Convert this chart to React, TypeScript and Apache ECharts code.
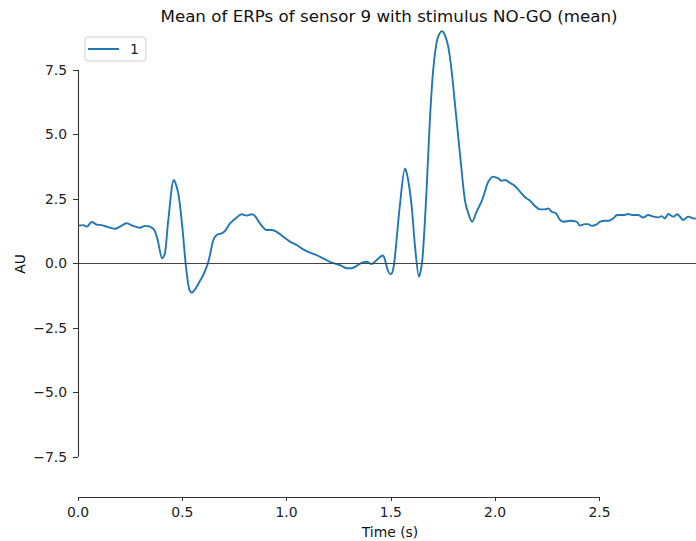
import React, { useEffect, useRef } from "react";
import * as echarts from "echarts";

const times = [
  0.0, 0.025, 0.042, 0.066, 0.09, 0.114, 0.145, 0.177, 0.201, 0.233, 0.265, 0.297, 0.321, 0.345, 0.366,
  0.382, 0.404, 0.417, 0.433, 0.46, 0.481, 0.5, 0.516, 0.532, 0.545, 0.569, 0.585, 0.601, 0.625, 0.649,
  0.665, 0.689, 0.705, 0.729, 0.761, 0.785, 0.809, 0.833, 0.849, 0.872, 0.905, 0.929, 0.953, 0.984, 1.016,
  1.048, 1.08, 1.112, 1.144, 1.176, 1.208, 1.24, 1.264, 1.288, 1.312, 1.336, 1.36, 1.384, 1.408, 1.432,
  1.461, 1.472, 1.485, 1.5, 1.512, 1.522, 1.544, 1.568, 1.583, 1.6, 1.616, 1.635, 1.651, 1.672,
  1.687, 1.703, 1.722, 1.744, 1.759, 1.775, 1.791, 1.807, 1.823, 1.839, 1.855, 1.871, 1.89, 1.911, 1.935,
  1.951, 1.967, 1.991, 2.015, 2.031, 2.047, 2.071, 2.095, 2.119, 2.143, 2.167, 2.191, 2.215, 2.239, 2.255,
  2.271, 2.291, 2.311, 2.327, 2.359, 2.391, 2.407, 2.43, 2.446, 2.463, 2.487, 2.502, 2.526, 2.542, 2.566,
  2.585, 2.614, 2.638, 2.662, 2.686, 2.71, 2.734, 2.758, 2.782, 2.798, 2.814, 2.83, 2.854, 2.873, 2.902,
  2.926, 2.95, 2.963,
];

const values = [
  1.46, 1.48, 1.42, 1.6, 1.5, 1.48, 1.4, 1.34, 1.42, 1.55, 1.45, 1.38, 1.45, 1.42, 1.29,
  0.9, 0.19, 0.39, 1.68, 3.23, 2.71, 1.42, 0.0, -0.97, -1.14, -0.91, -0.68, -0.45, 0.06, 0.9,
  1.1, 1.16, 1.26, 1.55, 1.78, 1.9, 1.85, 1.9, 1.83, 1.55, 1.29, 1.29, 1.22, 1.03, 0.84,
  0.71, 0.54, 0.41, 0.32, 0.19, 0.06, -0.03, -0.1, -0.19, -0.19, -0.1, 0.02, 0.06, -0.03, 0.13,
  0.3, 0.13, -0.26, -0.42, -0.19, 0.45, 2.3, 3.68, 3.23, 2.19, 0.64, -0.52, 0.13, 2.97,
  5.55, 7.49, 8.66, 9.0, 8.85, 8.4, 7.49, 6.2, 4.91, 3.62, 2.45, 1.94, 1.61, 2.0, 2.4,
  2.78, 3.16, 3.36, 3.29, 3.2, 3.23, 3.12, 3.0, 2.78, 2.56, 2.43, 2.22, 2.09, 2.09, 2.13,
  2.0, 1.94, 1.68, 1.61, 1.65, 1.61, 1.46, 1.52, 1.52, 1.45, 1.51, 1.61, 1.65, 1.65, 1.74,
  1.87, 1.87, 1.91, 1.87, 1.87, 1.77, 1.87, 1.81, 1.78, 1.83, 1.74, 1.91, 1.81, 1.9, 1.68,
  1.81, 1.74, 1.73,
];

const xTicks = [0, 0.5, 1.0, 1.5, 2.0, 2.5];
const yTicks = [-7.5, -5.0, -2.5, 0.0, 2.5, 5.0, 7.5];
const seriesName = "1";
const titleText = "Mean of ERPs of sensor 9 with stimulus NO-GO (mean)";
const xLabel = "Time (s)";
const yLabel = "AU";

const X_MIN = 0;
const X_MAX = 2.963;
const Y_MIN = -9.06;
const Y_MAX = 9.06;

const FONT = "DejaVu Sans";
const FS = 13.9;
const fmt = (v: number) => v.toFixed(1).replace("-", "\u2212");

export default function App() {
  const ref = useRef<HTMLDivElement>(null);

  useEffect(() => {
    document.body.style.margin = "0";
    if (!ref.current) return;
    const chart = echarts.init(ref.current, undefined, { renderer: "svg" });
    const spineStyle = { color: "#333", width: 1.1, type: "solid" as const };
    chart.setOption({
      animation: false,
      backgroundColor: "#fff",
      grid: { left: 78, right: 0, top: 29.6, bottom: 44, containLabel: false, outerBoundsMode: "none" },
      legend: {
        left: 85,
        top: 37,
        padding: [5, 7, 5, 3],
        borderColor: "#d0d0d0",
        borderWidth: 1,
        borderRadius: 3,
        backgroundColor: "#fff",
        itemWidth: 31,
        itemHeight: 14,
        textStyle: { fontFamily: FONT, fontSize: FS, color: "#222", padding: [0, 0, 0, 6] },
        data: [{ name: seriesName, icon: "path://M0,0 L31,0 L31,2 L0,2 Z" }],
      },
      xAxis: {
        type: "value",
        min: X_MIN,
        max: X_MAX,
        axisLine: { show: false, onZero: false },
        splitLine: { show: false },
        axisTick: { show: true, customValues: xTicks, length: 4, lineStyle: { color: "#333", width: 1 } },
        axisLabel: {
          customValues: xTicks,
          formatter: (v: number) => fmt(v),
          fontFamily: FONT,
          fontSize: FS,
          color: "#222",
          margin: 8,
        },
      },
      yAxis: {
        type: "value",
        min: Y_MIN,
        max: Y_MAX,
        axisLine: { show: false, onZero: false },
        splitLine: { show: false },
        axisTick: { show: true, customValues: yTicks, length: 5, lineStyle: { color: "#333", width: 1 } },
        axisLabel: {
          customValues: yTicks,
          formatter: (v: number) => fmt(v),
          fontFamily: FONT,
          fontSize: FS,
          color: "#222",
          margin: 11,
        },
      },
      graphic: [
        {
          type: "text",
          x: 389,
          y: 16,
          style: { text: titleText, fontFamily: FONT, fontSize: 16.7, fill: "#111", align: "center", verticalAlign: "middle" },
        },
        {
          type: "text",
          x: 390,
          y: 532,
          style: { text: xLabel, fontFamily: FONT, fontSize: FS, fill: "#111", align: "center", verticalAlign: "middle" },
        },
        {
          type: "text",
          x: 20,
          y: 264,
          rotation: Math.PI / 2,
          style: { text: yLabel, fontFamily: FONT, fontSize: FS, fill: "#111", align: "center", verticalAlign: "middle" },
        },
      ],
      series: [
        {
          name: seriesName,
          type: "line",
          data: times.map((t, i) => [t, values[i]]),
          symbol: "none",
          smooth: 0.3,
          lineStyle: { color: "#1f77b4", width: 1.9 },
          itemStyle: { color: "#1f77b4" },
          z: 3,
          markLine: {
            silent: true,
            symbol: "none",
            label: { show: false },
            animation: false,
            data: [
              [
                { coord: [X_MIN, 0], lineStyle: { color: "#444", width: 1.2, type: "solid" } },
                { coord: [X_MAX, 0] },
              ],
              [
                { coord: [xTicks[0], Y_MIN], lineStyle: spineStyle },
                { coord: [xTicks[xTicks.length - 1], Y_MIN] },
              ],
              [
                { coord: [X_MIN, yTicks[0]], lineStyle: spineStyle },
                { coord: [X_MIN, yTicks[yTicks.length - 1]] },
              ],
            ],
          },
        },
      ],
    });
    return () => chart.dispose();
  }, []);

  return <div ref={ref} style={{ width: 696, height: 541 }} />;
}
